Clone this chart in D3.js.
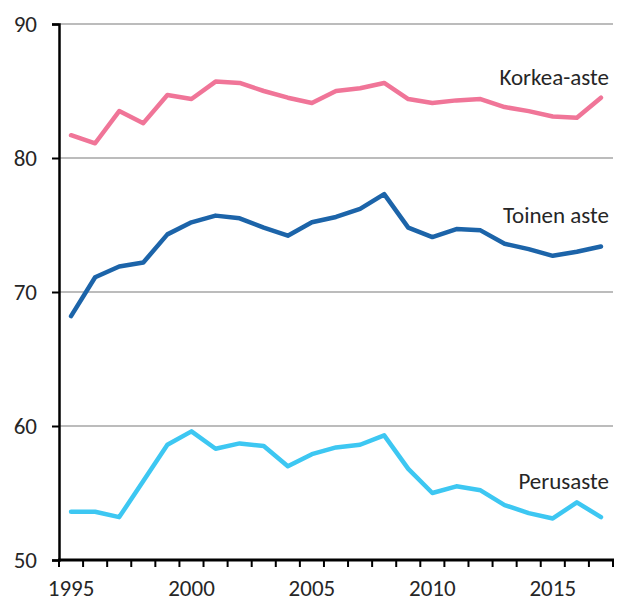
<!DOCTYPE html>
<html>
<head>
<meta charset="utf-8">
<script src="https://cdn.jsdelivr.net/npm/d3@7"></script>
<style>
  body { margin: 0; background: #fff; }
  svg text { font-family: Carlito, Lato, "Open Sans", sans-serif; fill: #262626; }
</style>
</head>
<body>
<div id="chart"></div>
<script>
// vuodet ja sarjat
const years = d3.range(1995, 2018);
const korkeaAste = [81.7, 81.1, 83.5, 82.6, 84.7, 84.4, 85.7, 85.6, 85.0, 84.5, 84.1, 85.0, 85.2, 85.6, 84.4, 84.1, 84.3, 84.4, 83.8, 83.5, 83.1, 83.0, 84.5];
const toinenAste = [68.2, 71.1, 71.9, 72.2, 74.3, 75.2, 75.7, 75.5, 74.8, 74.2, 75.2, 75.6, 76.2, 77.3, 74.8, 74.1, 74.7, 74.6, 73.6, 73.2, 72.7, 73.0, 73.4];
const perusaste = [53.6, 53.6, 53.2, 55.9, 58.6, 59.6, 58.3, 58.7, 58.5, 57.0, 57.9, 58.4, 58.6, 59.3, 56.8, 55.0, 55.5, 55.2, 54.1, 53.5, 53.1, 54.3, 53.2];
const yTicks = [50, 60, 70, 80, 90];
const xLabels = [1995, 2000, 2005, 2010, 2015];

const series = [
    { name: "Korkea-aste", values: korkeaAste, color: "#f07598", labelY: 77 },
    { name: "Toinen aste", values: toinenAste, color: "#1c64a9", labelY: 215 },
    { name: "Perusaste", values: perusaste, color: "#3dc7f2", labelY: 481 }
];

const width = 618, height = 601;
const margin = { left: 59, right: 5, top: 24, bottom: 41 };

const svg = d3.select("#chart").append("svg")
    .attr("width", width)
    .attr("height", height);

const x = d3.scaleBand()
    .domain(years)
    .range([margin.left, width - margin.right]);

const y = d3.scaleLinear()
    .domain([50, 90])
    .range([height - margin.bottom, margin.top]);

// vaakaviivat
svg.append("g")
    .selectAll("line")
    .data(yTicks.filter(d => d > 50))
    .enter().append("line")
    .attr("x1", margin.left)
    .attr("x2", width - margin.right)
    .attr("y1", d => y(d))
    .attr("y2", d => y(d))
    .attr("stroke", "#a6a6a6")
    .attr("stroke-width", 1.5);

// y-akseli
const yAxis = svg.append("g")
    .attr("transform", `translate(${margin.left},0)`)
    .call(d3.axisLeft(y).tickValues(yTicks).tickSize(7).tickPadding(15));
yAxis.select(".domain").attr("stroke", "#000").attr("stroke-width", 2.5);
yAxis.selectAll(".tick line").attr("stroke", "#000").attr("stroke-width", 2);
yAxis.selectAll(".tick text").attr("font-size", 23).attr("fill", "#262626");

// x-akseli: tikit kategorioiden rajoilla
const xAxis = svg.append("g")
    .attr("transform", `translate(0,${height - margin.bottom})`);
xAxis.append("line")
    .attr("x1", margin.left - 1)
    .attr("x2", width - margin.right + 1)
    .attr("stroke", "#000")
    .attr("stroke-width", 3);
xAxis.selectAll(".tickmark")
    .data(years.concat([2018]))
    .enter().append("line")
    .attr("class", "tickmark")
    .attr("x1", d => d === 2018 ? width - margin.right : x(d))
    .attr("x2", d => d === 2018 ? width - margin.right : x(d))
    .attr("y1", 0)
    .attr("y2", 7)
    .attr("stroke", "#000")
    .attr("stroke-width", 2);
xAxis.selectAll(".label")
    .data(xLabels)
    .enter().append("text")
    .attr("class", "label")
    .attr("x", d => x(d) + x.bandwidth() / 2)
    .attr("y", 36)
    .attr("text-anchor", "middle")
    .attr("font-size", 23)
    .text(d => d);

// viivat
const line = d3.line()
    .x((d, i) => x(years[i]) + x.bandwidth() / 2)
    .y(d => y(d));

series.forEach(s => {
    svg.append("path")
        .datum(s.values)
        .attr("fill", "none")
        .attr("stroke", s.color)
        .attr("stroke-width", 4.5)
        .attr("stroke-linejoin", "round")
        .attr("stroke-linecap", "round")
        .attr("d", line);

    svg.append("text")
        .attr("x", 609)
        .attr("y", s.labelY)
        .attr("dy", "0.35em")
        .attr("text-anchor", "end")
        .attr("font-size", 23)
        .text(s.name);
});
</script>
</body>
</html>
